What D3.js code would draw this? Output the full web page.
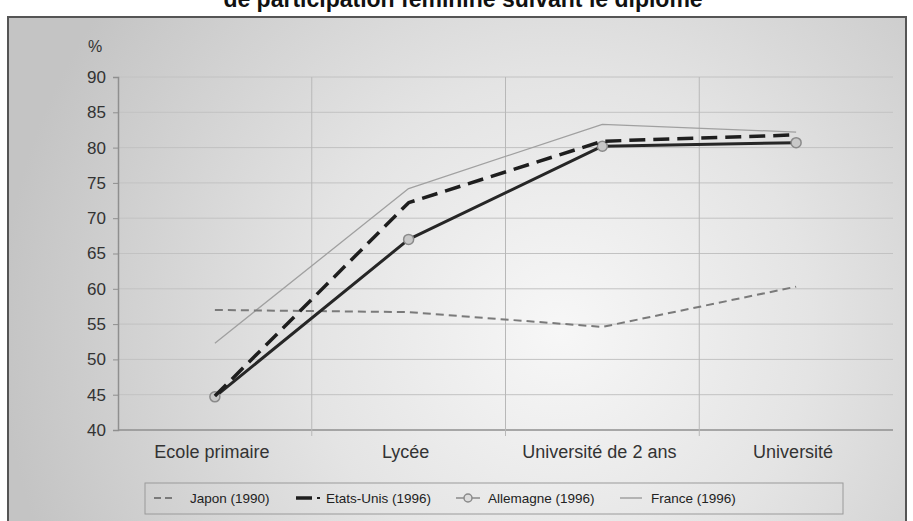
<!DOCTYPE html>
<html>
<head>
<meta charset="utf-8">
<script src="https://cdn.jsdelivr.net/npm/d3@7/dist/d3.min.js"></script>
<style>
  html, body { margin: 0; padding: 0; background: #ffffff; }
  svg { display: block; font-family: "Liberation Sans", Arial, sans-serif; }
</style>
</head>
<body>
<svg id="chart" width="913" height="521"></svg>
<script>
// Taux de participation féminine suivant le diplôme (%)
const categories = ["Ecole primaire", "Lycée", "Université de 2 ans", "Université"];
const japon      = [57.0, 56.7, 54.6, 60.3];
const etatsUnis  = [44.8, 72.2, 80.9, 81.8];
const allemagne  = [44.7, 67.0, 80.2, 80.7];
const france     = [52.3, 74.2, 83.3, 82.2];
const yTicks     = [40, 45, 50, 55, 60, 65, 70, 75, 80, 85, 90];
const titleText  = "de participation féminine suivant le diplôme";
const unitLabel  = "%";

const series = [
  { name: "Japon (1990)",      values: japon,     stroke: "#7a7a7a", width: 2,   dash: "8,5",  marker: false },
  { name: "Etats-Unis (1996)", values: etatsUnis, stroke: "#1e1e1e", width: 3.5, dash: "16,8", marker: false },
  { name: "Allemagne (1996)",  values: allemagne, stroke: "#262626", width: 3,   dash: null,   marker: true  },
  { name: "France (1996)",     values: france,    stroke: "#a0a0a0", width: 1.3, dash: null,   marker: false }
];

const svg = d3.select("#chart");

// background gradient of the chart panel
const defs = svg.append("defs");
const grad = defs.append("radialGradient")
  .attr("id", "panelGrad")
  .attr("gradientUnits", "userSpaceOnUse")
  .attr("cx", 560).attr("cy", 330).attr("r", 560)
  .attr("fx", 560).attr("fy", 330);
grad.append("stop").attr("offset", "0%").attr("stop-color", "#f7f7f7");
grad.append("stop").attr("offset", "45%").attr("stop-color", "#e4e4e4");
grad.append("stop").attr("offset", "100%").attr("stop-color", "#c4c4c4");

// title (runs off the top edge)
svg.append("text")
  .attr("x", 463).attr("y", 7)
  .attr("text-anchor", "middle")
  .attr("font-weight", "bold")
  .attr("font-size", 23)
  .attr("fill", "#111")
  .text(titleText);

// panel
svg.append("rect")
  .attr("x", 8).attr("y", 17)
  .attr("width", 898).attr("height", 520)
  .attr("fill", "url(#panelGrad)")
  .attr("stroke", "#555")
  .attr("stroke-width", 2);

const plotL = 118, plotR = 893, plotT = 77, plotB = 430;

const x = d3.scaleBand().domain(categories).range([plotL, plotR]).padding(0);
const y = d3.scaleLinear().domain([40, 90]).range([plotB, plotT]);
const cx = c => x(c) + x.bandwidth() / 2;

// horizontal gridlines
svg.append("g")
  .selectAll("line")
  .data(yTicks)
  .join("line")
  .attr("x1", plotL).attr("x2", plotR)
  .attr("y1", d => y(d)).attr("y2", d => y(d))
  .attr("stroke", d => d === 40 ? "#8f8f8f" : "#c2c2c2")
  .attr("stroke-width", d => d === 40 ? 1.5 : 1);

// vertical separators between categories
svg.append("g")
  .selectAll("line")
  .data(categories.slice(1))
  .join("line")
  .attr("x1", d => x(d)).attr("x2", d => x(d))
  .attr("y1", plotT).attr("y2", plotB + 6)
  .attr("stroke", "#b8b8b8")
  .attr("stroke-width", 1);

// y axis
const yAxis = svg.append("g")
  .attr("transform", `translate(${plotL},0)`)
  .call(d3.axisLeft(y).tickValues(yTicks).tickSize(5).tickPadding(7));
yAxis.select(".domain").attr("stroke", "#8f8f8f").attr("stroke-width", 1.5);
yAxis.selectAll(".tick line").attr("stroke", "#8f8f8f");
yAxis.selectAll(".tick text")
  .attr("font-size", 17)
  .attr("font-family", "Liberation Sans, Arial, sans-serif")
  .attr("fill", "#333");

svg.append("text")
  .attr("x", 95).attr("y", 52)
  .attr("text-anchor", "middle")
  .attr("font-size", 16)
  .attr("fill", "#333")
  .text(unitLabel);

// x axis labels
const xAxis = svg.append("g")
  .attr("transform", `translate(0,${plotB})`)
  .call(d3.axisBottom(x).tickSize(0).tickPadding(15));
xAxis.select(".domain").remove();
xAxis.selectAll(".tick text")
  .attr("font-size", 18)
  .attr("font-family", "Liberation Sans, Arial, sans-serif")
  .attr("fill", "#333")
  .attr("dx", -3);

// series lines
const line = d3.line()
  .x((d, i) => cx(categories[i]))
  .y(d => y(d));

const lines = svg.append("g");
// draw order: France, Japon, Allemagne, Etats-Unis
[3, 0, 2, 1].forEach(k => {
  const s = series[k];
  lines.append("path")
    .datum(s.values)
    .attr("d", line)
    .attr("fill", "none")
    .attr("stroke", s.stroke)
    .attr("stroke-width", s.width)
    .attr("stroke-dasharray", s.dash)
    .attr("stroke-linejoin", "round");
  if (s.marker) {
    lines.append("g")
      .selectAll("circle")
      .data(s.values)
      .join("circle")
      .attr("cx", (d, i) => cx(categories[i]))
      .attr("cy", d => y(d))
      .attr("r", 5)
      .attr("fill", "#c8c8c8")
      .attr("stroke", "#8a8a8a")
      .attr("stroke-width", 1.5);
  }
});

// legend
const legend = svg.append("g");
legend.append("rect")
  .attr("x", 145).attr("y", 483)
  .attr("width", 698).attr("height", 31)
  .attr("fill", "none")
  .attr("stroke", "#9a9a9a")
  .attr("stroke-width", 1);

const legendX = [154, 296, 456, 620];
const legendY = 498;
series.forEach((s, i) => {
  const g = legend.append("g").attr("transform", `translate(${legendX[i]},${legendY})`);
  if (i === 0) {
    g.append("line").attr("x1", 0).attr("x2", 22).attr("y1", 0).attr("y2", 0)
      .attr("stroke", s.stroke).attr("stroke-width", 2).attr("stroke-dasharray", "7,4");
  } else if (i === 1) {
    g.append("line").attr("x1", 0).attr("x2", 16).attr("y1", 0).attr("y2", 0)
      .attr("stroke", s.stroke).attr("stroke-width", 3.5);
    g.append("line").attr("x1", 21).attr("x2", 24).attr("y1", 0).attr("y2", 0)
      .attr("stroke", s.stroke).attr("stroke-width", 2);
  } else if (i === 2) {
    g.append("line").attr("x1", 0).attr("x2", 24).attr("y1", 0).attr("y2", 0)
      .attr("stroke", "#8a8a8a").attr("stroke-width", 1.5);
    g.append("circle").attr("cx", 12).attr("cy", 0).attr("r", 4)
      .attr("fill", "#dcdcdc").attr("stroke", "#8a8a8a").attr("stroke-width", 1.5);
  } else {
    g.append("line").attr("x1", 0).attr("x2", 22).attr("y1", 0).attr("y2", 0)
      .attr("stroke", s.stroke).attr("stroke-width", 1.5);
  }
  g.append("text")
    .attr("x", i === 0 ? 36 : (i === 1 ? 30 : (i === 2 ? 32 : 31)))
    .attr("y", 0).attr("dy", "0.35em")
    .attr("font-size", 13.5)
    .attr("fill", "#222")
    .text(s.name);
});
</script>
</body>
</html>
